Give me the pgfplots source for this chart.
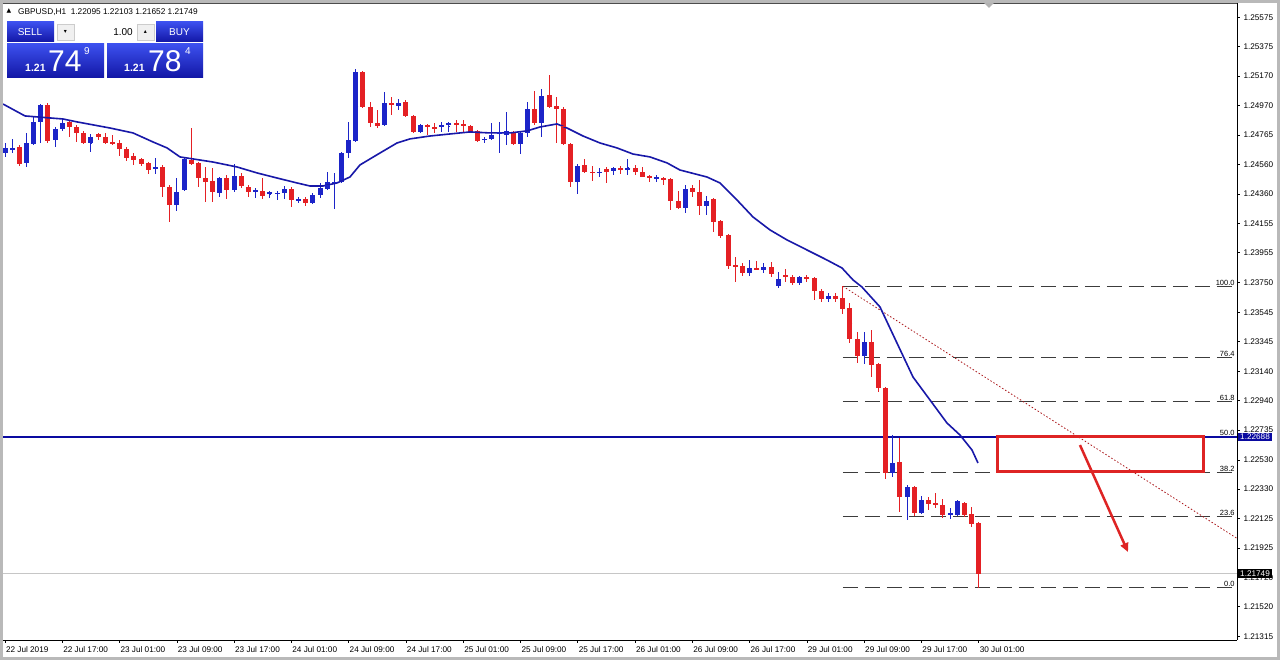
\documentclass[border=0pt]{standalone}
\usepackage{pgfplots}
\pgfplotsset{compat=1.18}
\usepackage{pgfplotstable}
\usepackage{fontspec}
\setmainfont{Liberation Sans}
\newfontfamily\symfont{DejaVu Sans}
\usetikzlibrary{arrows.meta}

\definecolor{bull}{RGB}{28,36,200}
\definecolor{bear}{RGB}{228,32,36}
\definecolor{maline}{RGB}{24,24,168}
\definecolor{levelblue}{RGB}{10,10,160}
\definecolor{fibgray}{RGB}{60,60,60}
\definecolor{markred}{RGB}{222,36,36}
\definecolor{btntop}{RGB}{60,80,238}
\definecolor{btnbot}{RGB}{18,22,165}

\newcommand\axfont{\fontsize{8.2}{9.5}\selectfont}

% H1 candles, k = bar number (1 = 22 Jul, 137 = 30 Jul 01:00)
\pgfplotstableread{
k o h l c
1 1.24641 1.24710 1.24614 1.24676
2 1.24669 1.24738 1.24641 1.24676
3 1.24683 1.24696 1.24552 1.24566
4 1.24573 1.24779 1.24545 1.24710
5 1.24703 1.24889 1.24696 1.24855
6 1.24855 1.24978 1.24710 1.24972
7 1.24972 1.24985 1.24710 1.24724
8 1.24731 1.24820 1.24683 1.24806
9 1.24806 1.24882 1.24793 1.24848
10 1.24855 1.24868 1.24751 1.24820
11 1.24820 1.24834 1.24717 1.24779
12 1.24779 1.24793 1.24703 1.24710
13 1.24710 1.24772 1.24648 1.24751
14 1.24772 1.24779 1.24731 1.24751
15 1.24751 1.24779 1.24703 1.24710
16 1.24717 1.24765 1.24696 1.24707
17 1.24710 1.24731 1.24621 1.24669
18 1.24669 1.24683 1.24586 1.24607
19 1.24621 1.24641 1.24559 1.24593
20 1.24600 1.24607 1.24552 1.24566
21 1.24573 1.24579 1.24497 1.24524
22 1.24531 1.24607 1.24497 1.24545
23 1.24545 1.24559 1.24339 1.24407
24 1.24407 1.24421 1.24167 1.24284
25 1.24284 1.24469 1.24242 1.24373
26 1.24387 1.24607 1.24380 1.24600
27 1.24593 1.24813 1.24559 1.24566
28 1.24573 1.24579 1.24407 1.24469
29 1.24469 1.24545 1.24304 1.24442
30 1.24449 1.24538 1.24304 1.24373
31 1.24366 1.24476 1.24339 1.24469
32 1.24469 1.24490 1.24325 1.24387
33 1.24387 1.24566 1.24373 1.24483
34 1.24483 1.24504 1.24401 1.24414
35 1.24407 1.24421 1.24339 1.24373
36 1.24380 1.24401 1.24332 1.24387
37 1.24380 1.24469 1.24325 1.24346
38 1.24366 1.24380 1.24332 1.24373
39 1.24363 1.24380 1.24318 1.24366
40 1.24366 1.24414 1.24325 1.24394
41 1.24394 1.24407 1.24270 1.24318
42 1.24318 1.24339 1.24297 1.24325
43 1.24325 1.24339 1.24277 1.24297
44 1.24297 1.24366 1.24290 1.24352
45 1.24352 1.24435 1.24332 1.24401
46 1.24394 1.24511 1.24387 1.24442
47 1.24440 1.24504 1.24256 1.24442
48 1.24442 1.24648 1.24435 1.24641
49 1.24641 1.24855 1.24607 1.24731
50 1.24724 1.25219 1.24717 1.25199
51 1.25199 1.25206 1.24951 1.24958
52 1.24958 1.24992 1.24820 1.24848
53 1.24848 1.24937 1.24813 1.24827
54 1.24834 1.25061 1.24827 1.24985
55 1.24985 1.25027 1.24903 1.24972
56 1.24965 1.25013 1.24937 1.24985
57 1.24992 1.25006 1.24889 1.24896
58 1.24896 1.24903 1.24779 1.24786
59 1.24786 1.24841 1.24779 1.24834
60 1.24834 1.24841 1.24765 1.24827
61 1.24820 1.24848 1.24779 1.24813
62 1.24827 1.24855 1.24786 1.24834
63 1.24834 1.24855 1.24786 1.24848
64 1.24848 1.24868 1.24786 1.24834
65 1.24841 1.24868 1.24786 1.24827
66 1.24827 1.24834 1.24779 1.24786
67 1.24793 1.24800 1.24717 1.24724
68 1.24731 1.24751 1.24710 1.24738
69 1.24738 1.24848 1.24731 1.24765
70 1.24772 1.24855 1.24641 1.24786
71 1.24765 1.24923 1.24696 1.24793
72 1.24786 1.24793 1.24696 1.24703
73 1.24703 1.24793 1.24634 1.24779
74 1.24779 1.24992 1.24751 1.24944
75 1.24944 1.25068 1.24834 1.24848
76 1.24848 1.25082 1.24751 1.25034
77 1.25040 1.25178 1.24951 1.24958
78 1.24965 1.25027 1.24710 1.24944
79 1.24944 1.24958 1.24696 1.24703
80 1.24703 1.24710 1.24407 1.24442
81 1.24442 1.24566 1.24359 1.24552
82 1.24559 1.24600 1.24504 1.24511
83 1.24511 1.24552 1.24449 1.24504
84 1.24504 1.24538 1.24476 1.24511
85 1.24531 1.24545 1.24435 1.24511
86 1.24518 1.24545 1.24490 1.24538
87 1.24538 1.24552 1.24497 1.24524
88 1.24531 1.24600 1.24490 1.24538
89 1.24538 1.24559 1.24490 1.24511
90 1.24511 1.24545 1.24476 1.24476
91 1.24483 1.24490 1.24442 1.24469
92 1.24469 1.24490 1.24442 1.24476
93 1.24469 1.24476 1.24421 1.24456
94 1.24463 1.24469 1.24249 1.24311
95 1.24311 1.24380 1.24256 1.24263
96 1.24263 1.24421 1.24229 1.24394
97 1.24401 1.24421 1.24339 1.24373
98 1.24373 1.24456 1.24215 1.24277
99 1.24277 1.24346 1.24215 1.24311
100 1.24325 1.24332 1.24098 1.24167
101 1.24174 1.24180 1.24057 1.24070
102 1.24077 1.24084 1.23843 1.23864
103 1.23871 1.23926 1.23754 1.23864
104 1.23864 1.23885 1.23795 1.23816
105 1.23816 1.23905 1.23795 1.23850
106 1.23850 1.23898 1.23836 1.23836
107 1.23836 1.23885 1.23816 1.23857
108 1.23857 1.23891 1.23788 1.23809
109 1.23726 1.23823 1.23713 1.23774
110 1.23802 1.23843 1.23754 1.23788
111 1.23788 1.23802 1.23733 1.23747
112 1.23747 1.23795 1.23733 1.23788
113 1.23788 1.23802 1.23754 1.23774
114 1.23781 1.23788 1.23630 1.23692
115 1.23692 1.23706 1.23616 1.23637
116 1.23637 1.23678 1.23616 1.23657
117 1.23657 1.23678 1.23616 1.23637
118 1.23644 1.23724 1.23534 1.23568
119 1.23575 1.23609 1.23334 1.23362
120 1.23362 1.23410 1.23197 1.23245
121 1.23245 1.23410 1.23190 1.23341
122 1.23341 1.23424 1.23100 1.23183
123 1.23190 1.23197 1.22997 1.23025
124 1.23025 1.23032 1.22398 1.22440
125 1.22440 1.22701 1.22412 1.22509
126 1.22515 1.22681 1.22171 1.22275
127 1.22275 1.22357 1.22116 1.22343
128 1.22343 1.22350 1.22144 1.22165
129 1.22165 1.22282 1.22158 1.22254
130 1.22254 1.22275 1.22185 1.22227
131 1.22233 1.22302 1.22199 1.22220
132 1.22220 1.22261 1.22130 1.22151
133 1.22151 1.22199 1.22123 1.22165
134 1.22151 1.22254 1.22144 1.22247
135 1.22233 1.22240 1.22137 1.22151
136 1.22158 1.22206 1.22068 1.22089
137 1.22095 1.22103 1.21652 1.21749
}\candles

% moving average
\pgfplotstableread{
k p
0.72 1.24978
3.79 1.24896
9.10 1.24875
11.06 1.24855
15.66 1.24813
18.88 1.24779
21.67 1.24717
23.63 1.24676
25.44 1.24614
30.05 1.24579
33.40 1.24545
36.20 1.24504
38.99 1.24469
41.78 1.24435
43.60 1.24414
45.41 1.24414
47.37 1.24435
49.18 1.24476
50.58 1.24559
53.37 1.24641
55.75 1.24710
57.56 1.24738
60.36 1.24758
63.15 1.24772
65.94 1.24786
68.74 1.24779
71.53 1.24779
73.91 1.24793
75.72 1.24820
78.09 1.24841
79.49 1.24813
81.73 1.24758
84.10 1.24710
86.47 1.24676
88.71 1.24634
91.08 1.24614
93.46 1.24573
95.27 1.24524
99.04 1.24476
100.86 1.24435
103.23 1.24318
105.47 1.24201
107.84 1.24112
110.22 1.24043
113.01 1.23974
115.80 1.23905
117.90 1.23850
119.44 1.23768
120.69 1.23719
123.21 1.23582
125.58 1.23334
127.82 1.23100
130.19 1.22942
132.56 1.22784
134.38 1.22701
136.06 1.22598
136.89 1.22509
}\mavg

\begin{document}
\begin{tikzpicture}
\fill[white] (0,0) rectangle (1280pt,660pt);

\begin{axis}[
  at={(3pt,20pt)}, anchor=south west,
  scale only axis, width=1234pt, height=637pt,
  xmin=0.72, xmax=173.07, ymin=1.21291, ymax=1.25673,
  clip=false,
  axis x line*=bottom, axis y line*=right,
  axis line style={-, black, line width=0.8pt},
  tick align=outside, major tick length=3pt,
  tick style={black, line width=0.6pt},
  tick label style={font=\axfont, text=black},
  xtick={1,9,...,137},
  xticklabels={22 Jul 2019, 22 Jul 17:00, 23 Jul 01:00, 23 Jul 09:00, 23 Jul 17:00, 24 Jul 01:00, 24 Jul 09:00, 24 Jul 17:00, 25 Jul 01:00, 25 Jul 09:00, 25 Jul 17:00, 26 Jul 01:00, 26 Jul 09:00, 26 Jul 17:00, 29 Jul 01:00, 29 Jul 09:00, 29 Jul 17:00, 30 Jul 01:00},
  xticklabel style={anchor=north west, xshift=-2.5pt},
  ytick={1.21315,1.21520,1.21720,1.21925,1.22125,1.22330,1.22530,1.22735,1.22940,1.23140,1.23345,1.23545,1.23750,1.23955,1.24155,1.24360,1.24560,1.24765,1.24970,1.25170,1.25375,1.25575},
  yticklabels={1.21315,1.21520,1.21720,1.21925,1.22125,1.22330,1.22530,1.22735,1.22940,1.23140,1.23345,1.23545,1.23750,1.23955,1.24155,1.24360,1.24560,1.24765,1.24970,1.25170,1.25375,1.25575},
]

% bid line and horizontal level
\addplot[gray!45, line width=0.9pt] coordinates {(0.72,1.21749) (173.07,1.21749)};
\addplot[levelblue, line width=1.3pt] coordinates {(0.72,1.22688) (173.07,1.22688)};

% fibonacci levels
\addplot[fibgray, line width=1pt, dash pattern=on 15pt off 7pt] coordinates {(118.04,1.23724) (173.07,1.23724)};
\addplot[fibgray, line width=1pt, dash pattern=on 15pt off 7pt] coordinates {(118.04,1.23235) (173.07,1.23235)};
\addplot[fibgray, line width=1pt, dash pattern=on 15pt off 7pt] coordinates {(118.04,1.22933) (173.07,1.22933)};
\addplot[fibgray, line width=1pt, dash pattern=on 15pt off 7pt] coordinates {(118.04,1.22444) (173.07,1.22444)};
\addplot[fibgray, line width=1pt, dash pattern=on 15pt off 7pt] coordinates {(118.04,1.22141) (173.07,1.22141)};
\addplot[fibgray, line width=1pt, dash pattern=on 15pt off 7pt] coordinates {(118.04,1.21652) (173.07,1.21652)};
\addplot[bear!75!black, line width=0.8pt, dash pattern=on 1.5pt off 2pt] coordinates {(118.04,1.23724) (173.07,1.21990)};

\begin{scope}[every node/.style={anchor=south east, inner sep=1pt, font=\fontsize{7.5}{8}\selectfont}]
\node at (axis cs:172.9,1.23724) {100.0};
\node at (axis cs:172.9,1.23235) {76.4};
\node at (axis cs:172.9,1.22933) {61.8};
\node at (axis cs:172.9,1.22688) {50.0};
\node at (axis cs:172.9,1.22444) {38.2};
\node at (axis cs:172.9,1.22141) {23.6};
\node at (axis cs:172.9,1.21652) {0.0};
\end{scope}

% wicks
\addplot[only marks, mark=-, mark size=0.4pt, mark options={bull, line width=1pt},
  restrict expr to domain={\thisrow{c}-\thisrow{o}}{0:1},
  error bars/.cd, y dir=both, y explicit, error mark=none,
  error bar style={bull, line width=1pt}]
  table[x=k, y expr={(\thisrow{h}+\thisrow{l})/2}, y error expr={(\thisrow{h}-\thisrow{l})/2}]{\candles};
\addplot[only marks, mark=-, mark size=0.4pt, mark options={bear, line width=1pt},
  restrict expr to domain={\thisrow{o}-\thisrow{c}}{0.000001:1},
  error bars/.cd, y dir=both, y explicit, error mark=none,
  error bar style={bear, line width=1pt}]
  table[x=k, y expr={(\thisrow{h}+\thisrow{l})/2}, y error expr={(\thisrow{h}-\thisrow{l})/2}]{\candles};

% bodies
\addplot[only marks, mark=-, mark size=2.5pt, mark options={bull, line width=1.2pt},
  restrict expr to domain={\thisrow{c}-\thisrow{o}}{0:1},
  error bars/.cd, y dir=both, y explicit, error mark=none,
  error bar style={bull, line width=5pt}]
  table[x=k, y expr={(\thisrow{o}+\thisrow{c})/2}, y error expr={(\thisrow{c}-\thisrow{o})/2}]{\candles};
\addplot[only marks, mark=-, mark size=2.5pt, mark options={bear, line width=1.2pt},
  restrict expr to domain={\thisrow{o}-\thisrow{c}}{0.000001:1},
  error bars/.cd, y dir=both, y explicit, error mark=none,
  error bar style={bear, line width=5pt}]
  table[x=k, y expr={(\thisrow{o}+\thisrow{c})/2}, y error expr={(\thisrow{o}-\thisrow{c})/2}]{\candles};

% moving average
\addplot[maline, line width=1.6pt, line join=round] table[x=k, y=p]{\mavg};

% drawn marks
\draw[markred, line width=3pt] (axis cs:139.69,1.22694) rectangle (axis cs:168.46,1.22453);
\draw[markred, line width=2.5pt, -{Triangle[length=9pt,width=8pt]}] (axis cs:151.14,1.22632) -- (axis cs:157.85,1.21896);

\coordinate (lvl) at (axis cs:173.07,1.22688);
\coordinate (bid) at (axis cs:173.07,1.21749);
\end{axis}

% price boxes on the scale
\node[fill=levelblue, text=white, font=\axfont, anchor=west, inner xsep=2pt, inner ysep=1.5pt, xshift=1pt] at (lvl) {1.22688};
\node[fill=black, text=white, font=\axfont, anchor=west, inner xsep=2pt, inner ysep=1.5pt, xshift=1pt] at (bid) {1.21749};

% window frame and panel (pixel coordinates, y downwards)
\begin{scope}[x=1pt, y=-1pt, yshift=660pt]
  \draw[gray!55, line width=3pt] (1.5,1.5) rectangle (1278.5,658.5);
  \draw[black!70, line width=0.8pt] (3,3.5) -- (1237,3.5);
  \fill[gray!60] (984,3) -- (994,3) -- (989,8) -- cycle;

  \node[anchor=center, inner sep=0pt, font=\symfont\fontsize{6}{6}\selectfont] at (9,11) {▲};
  \node[anchor=base west, inner sep=0pt, font=\fontsize{8.3}{9}\selectfont] at (18,14.5) {GBPUSD,H1\ \ 1.22095 1.22103 1.21652 1.21749};

  \shade[top color=btntop, bottom color=btnbot] (7,22) rectangle (54,42);
  \fill[white] (55,22) rectangle (155,42);
  \draw[gray!40, fill=gray!12] (57,24) rectangle (74,40);
  \draw[gray!40, fill=gray!12] (137,24) rectangle (154,40);
  \node[font=\symfont\fontsize{6}{6}\selectfont] at (65.5,32) {▾};
  \node[font=\symfont\fontsize{6}{6}\selectfont] at (145.5,32) {▴};
  \node[anchor=east, inner sep=0pt, font=\fontsize{10}{10}\selectfont] at (133,32) {1.00};
  \shade[top color=btntop, bottom color=btnbot] (156,22) rectangle (203,42);
  \node[text=white, font=\fontsize{10}{10}\selectfont] at (30,32) {SELL};
  \node[text=white, font=\fontsize{10}{10}\selectfont] at (179.5,32) {BUY};

  \shade[top color=btntop, bottom color=btnbot] (7,44) rectangle (104,78);
  \shade[top color=btntop, bottom color=btnbot] (107,44) rectangle (203,78);
  \node[anchor=base west, inner sep=0pt, text=white, font=\bfseries\fontsize{10.5}{11}\selectfont] at (25,72) {1.21};
  \node[anchor=base west, inner sep=0pt, text=white, font=\fontsize{30}{30}\selectfont] at (48,72) {74};
  \node[anchor=base west, inner sep=0pt, text=white, font=\fontsize{10}{10}\selectfont] at (84,55) {9};
  \node[anchor=base west, inner sep=0pt, text=white, font=\bfseries\fontsize{10.5}{11}\selectfont] at (124,72) {1.21};
  \node[anchor=base west, inner sep=0pt, text=white, font=\fontsize{30}{30}\selectfont] at (148,72) {78};
  \node[anchor=base west, inner sep=0pt, text=white, font=\fontsize{10}{10}\selectfont] at (185,55) {4};
\end{scope}
\end{tikzpicture}
\end{document}
